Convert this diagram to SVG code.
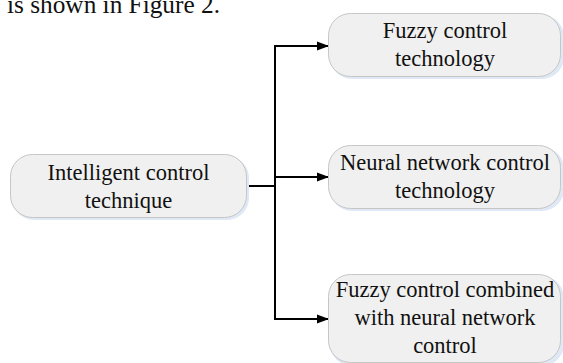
<svg xmlns="http://www.w3.org/2000/svg" width="563" height="363" viewBox="0 0 563 363">
<style>
.box{fill:#f0f0f0;stroke:#c6c6c6;stroke-width:1}
.sh{fill:#dfe8f5;stroke:none}
.t{font-size:22.5px;fill:#111;text-anchor:middle}
.c{fill:none;stroke:#000;stroke-width:2}
</style>
<defs>
<marker id="ah" markerWidth="12" markerHeight="10" refX="11" refY="5" orient="auto" markerUnits="userSpaceOnUse">
<path d="M0,0.5 L12,5 L0,9.5 Z" fill="#000"/>
</marker>
</defs>
<rect width="563" height="363" fill="#fff"/>
<g font-family="Liberation Serif, Times New Roman, serif">
<text x="7" y="13" font-size="25" fill="#111" textLength="213" lengthAdjust="spacingAndGlyphs">is shown in Figure 2.</text>
<g id="connectors">
<path class="c" d="M247,186 H275"/>
<path class="c" d="M275,45 V320"/>
<path class="c" d="M274,46 H328" marker-end="url(#ah)"/>
<path class="c" d="M274,177 H328" marker-end="url(#ah)"/>
<path class="c" d="M274,319 H328" marker-end="url(#ah)"/>
</g>
<g id="n0">
<rect class="sh" x="12" y="156" width="237" height="64" rx="22"/>
<rect class="box" x="10.5" y="154.5" width="236" height="63" rx="22"/>
<text class="t" x="128.5" y="180">Intelligent control</text>
<text class="t" x="128.5" y="208">technique</text>
</g>
<g id="n1">
<rect class="sh" x="330" y="15" width="234" height="64" rx="22"/>
<rect class="box" x="328.5" y="13.5" width="232" height="63" rx="22"/>
<text class="t" x="445" y="38">Fuzzy control</text>
<text class="t" x="445" y="66">technology</text>
</g>
<g id="n2">
<rect class="sh" x="330" y="147" width="234" height="64" rx="22"/>
<rect class="box" x="328.5" y="145.5" width="232" height="63" rx="22"/>
<text class="t" x="445" y="170">Neural network control</text>
<text class="t" x="445" y="198">technology</text>
</g>
<g id="n3">
<rect class="sh" x="330" y="276" width="234" height="90" rx="22"/>
<rect class="box" x="328.5" y="274.5" width="232" height="88" rx="22"/>
<text class="t" x="445" y="297">Fuzzy control combined</text>
<text class="t" x="445" y="325">with neural network</text>
<text class="t" x="445" y="353">control</text>
</g>
</g>
</svg>
